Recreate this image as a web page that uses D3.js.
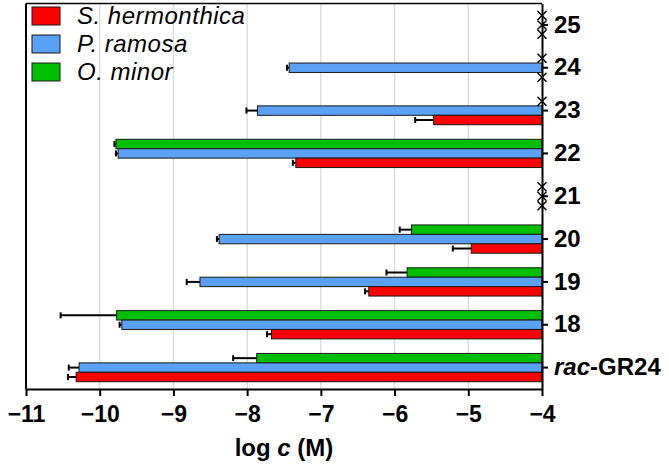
<!DOCTYPE html>
<html>
<head>
<meta charset="utf-8">
<script src="https://cdn.jsdelivr.net/npm/d3@7"></script>
<style>
  body { margin: 0; background: #fff; }
  text { font-family: "Liberation Sans", Arial, sans-serif; }
</style>
</head>
<body>
<div id="chart"></div>
<script>
var w = 669;
var h = 465;

// categories, bottom to top
var compounds = ['rac-GR24', '18', '19', '20', '21', '22', '23', '24', '25'];
var species = ['O. minor', 'P. ramosa', 'S. hermonthica'];
var legendOrder = ['S. hermonthica', 'P. ramosa', 'O. minor'];
var colors = { 'S. hermonthica': '#ff0000', 'P. ramosa': '#5aa0f5', 'O. minor': '#00bf00' };

// log c values (null = inactive, drawn as a cross)
var sHerm = [-10.32, -7.67, -6.35, -4.96, null, -7.34, -5.47, null, null];
var sHermErr = [0.11, 0.06, 0.05, 0.25, null, 0.04, 0.25, null, null];
var pRam = [-10.28, -9.70, -8.64, -8.38, null, -9.75, -7.86, -7.43, null];
var pRamErr = [0.14, 0.03, 0.18, 0.03, null, 0.03, 0.15, 0.03, null];
var oMin = [-7.87, -9.77, -5.83, -5.77, null, -9.78, null, null, null];
var oMinErr = [0.32, 0.76, 0.28, 0.16, null, 0.02, null, null, null];

var xTicks = [-11, -10, -9, -8, -7, -6, -5, -4];
var gridTicks = [-10, -9, -8, -7, -6, -5];

var series = {
  'S. hermonthica': { v: sHerm, e: sHermErr },
  'P. ramosa': { v: pRam, e: pRamErr },
  'O. minor': { v: oMin, e: oMinErr }
};

var pLeft = 26, pRight = 542, pTop = 3.5, pBottom = 389;

var svg = d3.select('#chart').append('svg')
  .attr('width', w)
  .attr('height', h);

var x = d3.scaleLinear().domain([-11, -4]).range([pLeft, pRight]);
var y = d3.scaleBand().domain(compounds.slice().reverse())
  .range([pTop, pBottom]).paddingInner(0.34).paddingOuter(0.17);
var ySub = d3.scaleBand().domain(species).range([0, y.bandwidth()]);

function midY(d) { return y(d.c) + ySub(d.s) + ySub.bandwidth() / 2; }

// grid
svg.selectAll('line.grid')
  .data(gridTicks)
  .enter().append('line')
  .attr('class', 'grid')
  .attr('x1', function (d) { return x(d); })
  .attr('x2', function (d) { return x(d); })
  .attr('y1', pTop)
  .attr('y2', pBottom)
  .style('stroke', '#dedede')
  .style('stroke-width', 1.5);

// flatten bars
var bars = [];
compounds.forEach(function (c, i) {
  species.forEach(function (s) {
    bars.push({ c: c, s: s, v: series[s].v[i], e: series[s].e[i] });
  });
});

var active = bars.filter(function (d) { return d.v !== null; });
var inactive = bars.filter(function (d) { return d.v === null; });

// error bars
var err = svg.selectAll('g.err')
  .data(active)
  .enter().append('g')
  .attr('class', 'err');
err.append('line')
  .attr('x1', function (d) { return x(d.v - d.e); })
  .attr('x2', function (d) { return x(d.v); })
  .attr('y1', midY)
  .attr('y2', midY)
  .style('stroke', '#000')
  .style('stroke-width', 2);
err.append('line')
  .attr('x1', function (d) { return x(d.v - d.e); })
  .attr('x2', function (d) { return x(d.v - d.e); })
  .attr('y1', function (d) { return midY(d) - 3; })
  .attr('y2', function (d) { return midY(d) + 3; })
  .style('stroke', '#000')
  .style('stroke-width', 2);

// bars
svg.selectAll('rect.bar')
  .data(active)
  .enter().append('rect')
  .attr('class', 'bar')
  .attr('x', function (d) { return x(d.v); })
  .attr('width', function (d) { return x(-4) - x(d.v); })
  .attr('y', function (d) { return y(d.c) + ySub(d.s); })
  .attr('height', ySub.bandwidth())
  .style('fill', function (d) { return colors[d.s]; })
  .style('stroke', '#1a1a1a')
  .style('stroke-width', 1);

// frame
svg.append('line')
  .attr('x1', pLeft).attr('x2', pLeft).attr('y1', pTop).attr('y2', pBottom)
  .style('stroke', '#000').style('stroke-width', 2);
svg.append('line')
  .attr('x1', pLeft).attr('x2', pRight).attr('y1', pTop).attr('y2', pTop)
  .style('stroke', '#000').style('stroke-width', 1.5);

// bottom axis
var xAxis = svg.append('g')
  .attr('transform', 'translate(0,' + pBottom + ')')
  .call(d3.axisBottom(x).tickValues(xTicks).tickFormat(d3.format('d'))
    .tickSize(7).tickSizeOuter(0).tickPadding(10));
xAxis.select('.domain').style('stroke-width', 2);
xAxis.selectAll('.tick line').style('stroke-width', 2);
xAxis.selectAll('text')
  .style('font-size', '23px')
  .style('font-weight', 'bold')
  .style('font-family', '"Liberation Sans", Arial, sans-serif');

// right axis
var yAxis = svg.append('g')
  .attr('transform', 'translate(' + pRight + ',0)')
  .call(d3.axisRight(y).tickSize(6).tickSizeOuter(0).tickPadding(6));
yAxis.select('.domain').style('stroke-width', 2);
yAxis.selectAll('.tick line').style('stroke-width', 2);
yAxis.selectAll('text')
  .style('font-size', '24px')
  .style('font-weight', 'bold')
  .style('font-family', '"Liberation Sans", Arial, sans-serif')
  .each(function (d) {
    if (d === 'rac-GR24') {
      var t = d3.select(this).text('');
      t.append('tspan').style('font-style', 'italic').text('rac');
      t.append('tspan').text('-GR24');
    }
  });

// crosses for inactive
var cr = 4.5;
var cross = svg.selectAll('g.cross')
  .data(inactive)
  .enter().append('g')
  .attr('class', 'cross')
  .attr('transform', function (d) {
    return 'translate(' + x(-4) + ',' + midY(d) + ')';
  });
cross.append('line').attr('x1', -cr).attr('x2', cr).attr('y1', -cr).attr('y2', cr)
  .style('stroke', '#000').style('stroke-width', 1.5);
cross.append('line').attr('x1', -cr).attr('x2', cr).attr('y1', cr).attr('y2', -cr)
  .style('stroke', '#000').style('stroke-width', 1.5);

// axis title
var title = svg.append('text')
  .attr('x', (pLeft + pRight) / 2)
  .attr('y', 456)
  .attr('text-anchor', 'middle')
  .style('font-size', '24px')
  .style('font-weight', 'bold');
title.append('tspan').text('log ');
title.append('tspan').style('font-style', 'italic').text('c');
title.append('tspan').text(' (M)');

// legend
var legend = svg.selectAll('g.legend')
  .data(legendOrder)
  .enter().append('g')
  .attr('class', 'legend')
  .attr('transform', function (d, i) { return 'translate(32,' + (7 + i * 28) + ')'; });
legend.append('rect')
  .attr('width', 28)
  .attr('height', 18)
  .style('fill', function (d) { return colors[d]; })
  .style('stroke', '#1a1a1a')
  .style('stroke-width', 1);
legend.append('text')
  .attr('x', 45)
  .attr('y', 17)
  .style('font-size', '24px')
  .style('font-style', 'italic')
  .style('letter-spacing', '0.5px')
  .text(function (d) { return d; });
</script>
</body>
</html>
